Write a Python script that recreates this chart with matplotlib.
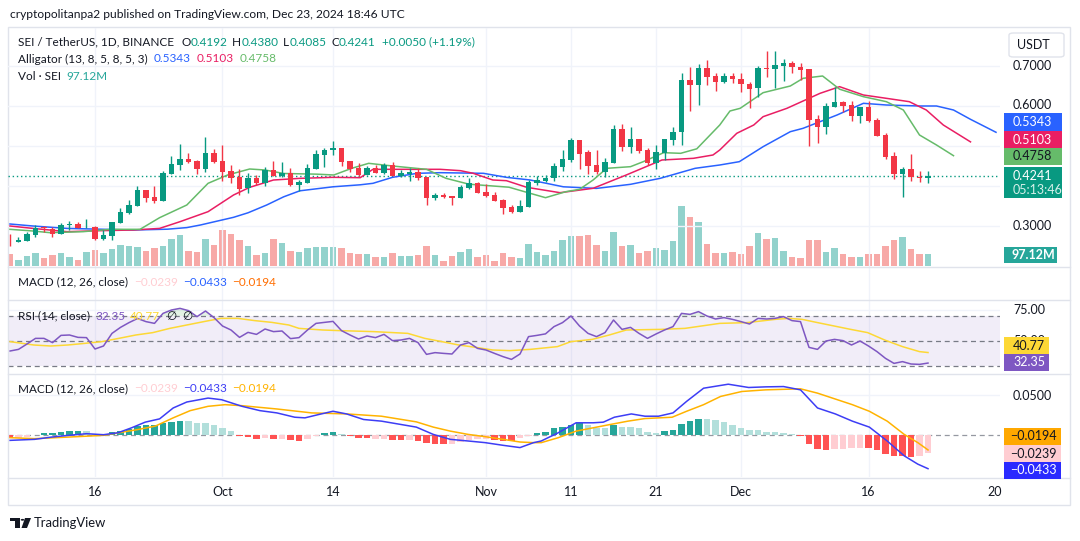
import matplotlib
matplotlib.use('Agg')
import matplotlib.pyplot as plt
from matplotlib.patches import Rectangle, FancyBboxPatch, Polygon, Circle
from matplotlib.lines import Line2D

W, H = 1080, 541
plt.rcParams['font.family'] = ['Lato', 'DejaVu Sans']

# daily candles SEI/USDT, index 0 = Sep 6 2024, last = Dec 23 2024
opens = [.266, .261, .263, .2775, .2955, .2925, .281, .302, .3043, .2965,
         .2975, .2683, .2758, .3083, .3333, .351, .39, .3718, .3633, .4308,
         .4533, .4675, .4625, .4425, .4825, .4625, .4375, .4225, .3942, .4192,
         .4083, .4393, .425, .4325, .4018, .4075, .4433, .4775, .49, .495,
         .4618, .4443, .4275, .4443, .4325, .4518, .425, .4308, .435, .4225,
         .37, .3775, .375, .37, .3958, .4075, .385, .3775, .365, .3468,
         .3358, .3483, .4083, .4133, .4193, .4483, .465, .515, .485, .4518,
         .4358, .4575, .5425, .4983, .5175, .49, .4583, .4833, .515, .5358,
         .665, .6533, .695, .675, .6593, .675, .6675, .6558, .6443, .6943,
         .6918, .7008, .7075, .6975, .6925, .5675, .5483, .5983, .61, .6025,
         .5758, .5975, .565, .5268, .475, .4308, .4425, .4218, .4192]
highs = [.280, .273, .285, .302, .300, .2983, .3068, .3125, .310, .3175,
         .300, .290, .310, .345, .365, .400, .390, .400, .4375, .4758,
         .505, .4833, .465, .5225, .4925, .5025, .4525, .4425, .4317, .4275,
         .4475, .4625, .460, .445, .415, .455, .490, .495, .5133, .495,
         .4618, .4568, .450, .4525, .4568, .460, .440, .4443, .4443, .4225,
         .3818, .3825, .375, .4025, .4193, .4108, .405, .3858, .3675, .3525,
         .365, .415, .4258, .4275, .4583, .490, .5208, .515, .490, .490,
         .470, .5525, .555, .5468, .5175, .4958, .5018, .5183, .5468, .6818,
         .6983, .705, .715, .6818, .6818, .6833, .6818, .6608, .700, .7375,
         .7375, .7175, .7125, .7083, .6925, .5775, .6083, .6468, .6133, .6125,
         .5975, .6125, .570, .5318, .485, .4475, .480, .4375, .4380]
lows = [.250, .260, .262, .273, .2858, .2733, .2793, .290, .2943, .2943,
        .265, .265, .2643, .3083, .3293, .3508, .3608, .3583, .3633, .4308,
        .440, .4568, .430, .435, .4568, .4125, .4068, .3775, .3833, .4018,
        .400, .425, .4233, .400, .3875, .4068, .4418, .4483, .4775, .450,
        .4358, .4258, .4275, .4318, .4308, .425, .4218, .4125, .415, .3525,
        .365, .3708, .3525, .370, .3918, .3825, .3733, .3625, .330, .3333,
        .3358, .3483, .4018, .4108, .4125, .4383, .4608, .4425, .430, .430,
        .4218, .4575, .4883, .4833, .4833, .4525, .4425, .465, .5025, .5025,
        .5883, .6025, .6525, .6383, .6568, .6583, .6358, .5943, .6233, .6733,
        .6443, .6633, .6818, .665, .500, .5083, .530, .5983, .5843, .5633,
        .5583, .5608, .5258, .4668, .4183, .3733, .4133, .4108, .4085]
closes = [.264, .265, .279, .295, .2943, .2808, .3018, .3043, .2958, .2975,
          .2683, .2775, .310, .335, .3525, .390, .3708, .3633, .4325, .455,
          .4675, .460, .4425, .4825, .460, .435, .4208, .3933, .4192, .4068,
          .4393, .425, .4333, .4025, .4108, .4443, .480, .4908, .495, .4608,
          .4425, .4275, .4443, .4325, .4518, .425, .4325, .435, .420, .370,
          .3775, .3718, .3693, .3975, .4075, .3825, .375, .3633, .3458, .3358,
          .3493, .4108, .415, .4208, .450, .4675, .515, .480, .450, .4358,
          .460, .5425, .4983, .5175, .4883, .4583, .485, .5175, .535, .665,
          .6533, .695, .6733, .6608, .675, .6668, .6543, .6433, .695, .6918,
          .7033, .7075, .6968, .6908, .565, .5483, .600, .610, .6008, .5758,
          .5975, .5633, .5258, .4733, .4308, .4425, .4218, .4192, .4241]
volume_m = [97, 49, 81, 105, 65, 89, 105, 73, 49, 113,
            129, 105, 138, 170, 162, 154, 121, 146, 162, 218,
            251, 121, 113, 218, 170, 291, 259, 210, 162, 89,
            105, 218, 186, 121, 113, 146, 154, 154, 154, 146,
            105, 97, 97, 73, 73, 105, 81, 81, 89, 162,
            89, 40, 81, 113, 138, 73, 89, 40, 105, 73,
            65, 178, 113, 89, 121, 210, 243, 243, 251, 170,
            121, 275, 162, 170, 105, 121, 146, 129, 202, 485,
            396, 356, 178, 105, 105, 113, 97, 162, 267, 218,
            227, 121, 73, 65, 210, 210, 113, 146, 97, 73,
            73, 97, 97, 162, 210, 235, 138, 97, 97.12]

# Alligator lines (day, value), shifted into the future
jaw_days = [0, 2.7, 6.7, 10.6, 14.5, 18.5, 20.8, 22.4, 26.3, 28, 30.2, 32.2, 34.1, 38, 41.2,
            42.7, 45, 47.9, 50.6, 55.7, 58.4, 61.2, 65.1, 69, 73, 76.5, 80.6, 83.5, 85.8,
            88.6, 91.8, 93.3, 97.3, 100.4, 103.1, 107, 109, 111, 113, 116]
jaw_vals = [.305, .300, .294, .292, .290, .292, .296, .3025, .3217, .333, .3525, .373, .388, .398,
            .403, .4067, .4217, .4317, .4333, .4317, .4217, .415, .398, .394, .4042, .4192,
            .4442, .4525, .4608, .4983, .5358, .5442, .5775, .6067, .6025, .600, .600, .590,
            .5667, .5343]
teeth_days = [0, 2.7, 6.7, 10.6, 14.5, 17.6, 20, 23.3, 26.3, 28.2, 31, 34, 38, 41.2, 42.7, 45,
              50.6, 53, 54.5, 56.8, 58.4, 60.8, 64.7, 68.6, 72.5, 76.7, 80.4, 82.7, 83.5, 85.5,
              87.5, 88.6, 91.4, 95.3, 97.6, 100.4, 103.1, 105.8, 107.8, 109.8, 113]
teeth_vals = [.300, .294, .2858, .2883, .290, .294, .3108, .3358, .3775, .3967, .415, .419, .4217,
              .4208, .4417, .4417, .4417, .4383, .4317, .415, .4133, .3967, .3833, .3942, .4275,
              .465, .4692, .4775, .490, .5317, .5525, .5733, .5942, .6317, .6483, .6275, .6192,
              .6108, .590, .5525, .5103]
lips_days = [0, 2.7, 4.7, 8.6, 11.8, 15.3, 17.6, 20.8, 23.3, 25.6, 28.2, 30, 32.2, 36.1, 38.1,
             40.2, 42.2, 45, 49, 51.3, 54, 58.7, 61.2, 63, 65.4, 67, 68.6, 70.2, 73, 74.5, 76.9,
             78.9, 80.8, 83.5, 84.7, 85.9, 88.6, 91.8, 93.3, 95.6, 97.6, 100.4, 103.1, 105.1,
             107, 109, 111]
lips_vals = [.2917, .2875, .2833, .2858, .2917, .2917, .3208, .3525, .4067, .4275, .4425, .440,
             .4313, .4296, .4275, .4442, .4567, .450, .4417, .4192, .4045, .397, .3817, .3708,
             .3858, .3917, .415, .4442, .4483, .4608, .4833, .4817, .493, .5525, .5875, .5942,
             .6333, .650, .6692, .675, .642, .6233, .6108, .590, .5275, .5025, .4758]

rsi = [42.0, 43.3, 47.6, 52.1, 52.1, 48.7, 54.5, 54.8, 52.9, 52.7,
       43.6, 46.0, 56.1, 60.9, 64.7, 68.0, 65.5, 64.1, 72.1, 74.8,
       76.1, 74.3, 69.5, 74.0, 68.7, 62.0, 58.8, 52.9, 56.9, 55.3,
       59.6, 57.5, 58.0, 51.9, 52.7, 58.8, 64.1, 64.9, 65.7, 58.3,
       54.8, 51.6, 54.0, 52.7, 55.3, 50.3, 50.8, 52.1, 48.7, 39.3,
       40.7, 40.1, 39.6, 46.8, 48.7, 44.1, 42.8, 40.1, 37.5, 35.3,
       39.6, 53.5, 54.5, 55.7, 61.5, 64.7, 70.0, 62.0, 56.1, 53.5,
       56.7, 66.8, 59.3, 60.9, 56.1, 52.1, 55.6, 58.8, 61.5, 72.1,
       71.3, 73.5, 70.0, 67.6, 68.7, 67.3, 65.5, 63.6, 68.1, 67.6,
       68.1, 69.5, 66.3, 65.5, 44.9, 43.3, 50.0, 51.3, 50.3, 46.8,
       50.0, 46.0, 41.5, 36.1, 32.1, 33.5, 31.6, 31.3, 32.35]
rsi_ma_days = [0, 2.8, 4.8, 6.8, 8.8, 10.8, 12.8, 14.8, 16.8, 18.8, 20.8, 22.8, 24.8, 26.8, 28.8,
               30.8, 32.8, 34, 36.8, 38.8, 42.8, 46.8, 48.8, 50.8, 52.8, 54.8, 56.8, 58.8, 61.2,
               64.4, 66, 68.5, 70.5, 72.5, 76.6, 79.4, 83.5, 86.7, 90, 91.6, 93.2, 94.8, 98.9,
               100.9, 102.9, 105, 107, 108]
rsi_ma_vals = [49.5, 46.8, 46.0, 46.8, 48.1, 49.5, 52.1, 54.8, 56.7, 60.1, 62.8, 65.5, 68.1, 68.1,
               66.3, 64.9, 62.8, 60.1, 58.8, 58.3, 57.5, 56.1, 52.1, 49.5, 46.8, 44.9, 42.8, 42.3,
               43.3, 45.5, 49.5, 51.3, 54.8, 58.8, 59.3, 60.1, 64.1, 64.7, 67.3, 68.1, 67.3, 65.0,
               59.3, 56.7, 50.8, 45.5, 41.5, 40.77]

macd_days = [0, 2.9, 4.9, 6.9, 9, 11, 12.7, 14.3, 15.9, 17.6, 19.2, 20.8, 23.3, 24.9, 27.3, 29.4,
             31.4, 33.5, 34.7, 36.3, 38, 39.6, 41.6, 43.7, 47.8, 49.8, 51.8, 53.9, 55.9, 58, 60,
             61.6, 62.5, 64.5, 66.6, 68.6, 69.8, 71.1, 73.1, 74.7, 76.3, 78, 79.6, 81.6, 84.5,
             86.9, 88.9, 91, 93, 95, 97.1, 99.1, 101.1, 103.2, 105.2, 106.8, 108]
macd_vals = [-.0072, -.0059, -.003, -.0008, .0013, 0, .0025, .0088, .016, .0202, .0341, .0417,
             .0467, .0446, .0362, .0307, .0278, .0223, .0215, .0257, .0299, .0265, .0194, .0173,
             .0097, .0004, -.0059, -.008, -.0101, -.0135, -.0164, -.0101, -.008, .0025, .0152,
             .0152, .016, .0223, .0265, .0236, .0236, .0278, .0425, .0593, .0644, .0602, .061,
             .0614, .0572, .0341, .0265, .0173, .0097, -.008, -.0269, -.0375, -.0433]
signal_days = [0, 2.9, 6.9, 11, 15.1, 17.1, 19.2, 21.2, 23.3, 25.3, 27.3, 31.4, 35.5, 39.6, 43.7,
               47.8, 49.8, 51.8, 53.9, 55.9, 58, 60, 61.6, 62.5, 64.5, 66.6, 68.6, 70.6, 72.7,
               74.7, 77.9, 79.6, 81.6, 83.6, 86.1, 88.9, 93, 95, 99.1, 101.1, 103.2, 105.2,
               106.8, 108]
signal_vals = [-.0038, -.005, -.003, -.0008, .0067, .011, .0215, .0307, .0362, .0383, .037,
               .0328, .0278, .0265, .0236, .0164, .0097, .0046, .0004, -.0025, -.0059, -.0093,
               -.0101, -.0101, -.0038, .0046, .0088, .013, .0173, .0206, .0223, .0299, .0383,
               .0488, .0551, .0572, .0585, .053, .0383, .0299, .0173, .0004, -.0101, -.0194]
hist = [-.0038, -.0038, -.0025, -.0005, .002, .002, .0034, .0042, .0042, .0042,
        .0013, .0004, .003, .0046, .0076, .011, .0118, .013, .0143, .016,
        .018, .0173, .0143, .0143, .0118, .0088, .0042, -.002, -.003, -.0055,
        -.0042, -.0059, -.0059, -.0072, -.008, -.0059, -.002, .002, .003, .0013,
        -.0017, -.0042, -.0042, -.0055, -.0055, -.0067, -.0067, -.0067, -.008, -.011,
        -.0122, -.0122, -.0122, -.0093, -.0063, -.005, -.005, -.0063, -.008, -.008,
        -.0038, -.0017, .0017,
        .0038, .008, .01, .013, .0143, .0118, .0088, .0088, .0118, .01,
        .01, .008, .0038, .0025, .0042, .0055, .0139, .018, .0206, .0206,
        .0185, .0168, .013, .0088, .0055, .0055, .0038, .0038, .0025, .0013,
        -.002, -.0122, -.0185, -.0198, -.0185, -.0185, -.0173, -.0173, -.0173, -.0198,
        -.024, -.0274, -.0274, -.0282, -.0269, -.0239]
hist_kind = list('RrrrGGGGGgggGGGGGGGGGggggggRRRrRrRRrrGGgRRRrrRRrRRRRrrrrrRRRrrG'
                 'GGGGGgggGgggggGGGGGgggggggggggRRRRrrrrRRRRRRrr')

tick_days = [10, 25, 38, 56, 66, 76, 86, 101]
tick_labels = ['16', 'Oct', '14', 'Nov', '11', '21', 'Dec', '16']

UP, DOWN = '#089981', '#F23645'
GRID = '#f0f3fa'
TXT = '#131722'
XL = (-0.235, 116.47)

fig = plt.figure(figsize=(W / 100, H / 100), dpi=100)
fig.patch.set_facecolor('white')


def rect(x0, y0, x1, y1):
    return [x0 / W, 1 - y1 / H, (x1 - x0) / W, (y1 - y0) / H]


def pane(y0, y1):
    a = fig.add_axes(rect(8, y0, 1000, y1))
    a.set_xlim(*XL)
    for s in a.spines.values():
        s.set_visible(False)
    a.set_xticks([])
    a.set_yticks([])
    for d in tick_days:
        a.axvline(d, color=GRID, lw=1, zorder=0)
    return a


# ---- price pane
ax = pane(28, 267)
ax.set_ylim(0.1975, 0.795)
for p in [0.3, 0.4, 0.5, 0.6, 0.7]:
    ax.axhline(p, color=GRID, lw=1, zorder=0)
axv = ax.twinx()
axv.set_ylim(-8.09, 238 * 8.09)
axv.set_yticks([])
for s in axv.spines.values():
    s.set_visible(False)
axv.set_zorder(0)
ax.set_zorder(1)
ax.patch.set_visible(False)
days = list(range(len(closes)))
vcol = ['#92D2CC' if c >= o else '#F7A9A7' for o, c in zip(opens, closes)]
axv.bar(days, volume_m, width=0.82, color=vcol)

for d in days:
    o, h, l, c = opens[d], highs[d], lows[d], closes[d]
    col = UP if c >= o else DOWN
    ax.vlines(d, l, h, color=col, lw=1, zorder=3)
    ax.bar(d, max(abs(c - o), 0.0022), bottom=min(o, c), width=0.7, color=col, zorder=4)
ax.plot(jaw_days, jaw_vals, color='#2962FF', lw=1.1, zorder=2)
ax.plot(teeth_days, teeth_vals, color='#E91E63', lw=1.1, zorder=2)
ax.plot(lips_days, lips_vals, color='#66BB6A', lw=1.1, zorder=2)
ax.axhline(closes[-1], color=UP, lw=1, ls=(0, (1, 2)), zorder=1)

# ---- collapsed macd header pane
axh = pane(268, 300)

# ---- RSI pane
axr = pane(300, 373)
axr.set_ylim(24.4, 82.8)
axr.axhline(75, color=GRID, lw=1, zorder=0)
axr.axhspan(30, 70, color='#7E57C2', alpha=0.1, lw=0)
for lv in [70, 50, 30]:
    axr.axhline(lv, color='#787B86', lw=0.9, ls=(0, (4, 3)))
axr.fill_between(days, 70, rsi, where=[v > 70 for v in rsi], color='#66BB6A', alpha=0.18,
                 interpolate=True, lw=0)
axr.plot(rsi_ma_days, rsi_ma_vals, color='#FDD835', lw=1.1)
axr.plot(days, rsi, color='#7E57C2', lw=1.1)

# ---- MACD pane
axm = pane(374, 477)
axm.set_ylim(-0.0539, 0.0774)
axm.axhline(0.05, color=GRID, lw=1, zorder=0)
kind_col = {'G': '#26A69A', 'g': '#B2DFDB', 'R': '#FF5252', 'r': '#FFCDD2'}
axm.bar(days, hist, width=0.82, color=[kind_col[k] for k in hist_kind], zorder=2)
axm.axhline(0, color='#9598A1', lw=0.9, ls=(0, (4, 3)), zorder=1)
axm.plot(signal_days, signal_vals, color='#FFB300', lw=1.1, zorder=3)
axm.plot(macd_days, macd_vals, color='#3D3DF5', lw=1.1, zorder=4)

# ---- frame and separators
fig.add_artist(Rectangle((8 / W, 1 - 505 / H), 1062 / W, 478 / H, transform=fig.transFigure,
                         fill=False, ec='#e0e3eb', lw=1))
for yy in [267.5, 300, 373.5, 477.5]:
    fig.add_artist(Line2D([8 / W, 1070 / W], [1 - yy / H] * 2, color='#e0e3eb', lw=1))


def T(x, y, s, **kw):
    kw.setdefault('fontsize', 9)
    kw.setdefault('color', TXT)
    kw.setdefault('va', 'center')
    return fig.text(x / W, 1 - y / H, s, **kw)


def runs(x, y, parts, size=8.5):
    r = fig.canvas.get_renderer()
    for s, c, gap in parts:
        t = T(x, y, s, color=c, fontsize=size)
        x += t.get_window_extent(r).width + gap


def box(y0, y1, bg, w=58):
    fig.add_artist(Rectangle((1004 / W, 1 - y1 / H), w / W, (y1 - y0) / H,
                             transform=fig.transFigure, color=bg, lw=0, zorder=2))


T(10, 15, 'cryptopolitanpa2 published on TradingView.com, Dec 23, 2024 18:46 UTC', fontsize=8.65)

runs(18, 42, [('SEI / TetherUS, 1D, BINANCE', TXT, 7), ('O', TXT, 0), ('0.4192', UP, 5),
              ('H', TXT, 0), ('0.4380', UP, 5), ('L', TXT, 0), ('0.4085', UP, 5),
              ('C', TXT, 0), ('0.4241', UP, 6), ('+0.0050 (+1.19%)', UP, 0)])
runs(18, 59, [('Alligator (13, 8, 5, 8, 5, 3)', TXT, 6), ('0.5343', '#2962FF', 6),
              ('0.5103', '#E91E63', 6), ('0.4758', '#66BB6A', 0)])
runs(18, 76, [('Vol · SEI', TXT, 5), ('97.12M', '#26A69A', 0)])
runs(18, 282, [('MACD (12, 26, close)', TXT, 6), ('\u22120.0239', '#FFCDD2', 5),
               ('\u22120.0433', '#2962FF', 5), ('\u22120.0194', '#FF6D00', 0)])
runs(18, 316, [('RSI (14, close)', TXT, 5), ('32.35', '#7E57C2', 5), ('40.77', '#FDD835', 6),
               ('\u2205', TXT, 6), ('\u2205', TXT, 0)])
runs(18, 389, [('MACD (12, 26, close)', TXT, 6), ('\u22120.0239', '#FFCDD2', 5),
               ('\u22120.0433', '#3D3DF5', 5), ('\u22120.0194', '#FFB300', 0)])

# right scale
fig.add_artist(FancyBboxPatch((1009 / W, 1 - 57 / H), 55 / W, 24 / H, transform=fig.transFigure,
                              boxstyle='round,pad=0,rounding_size=0.004', fc='white',
                              ec='#e0e3eb', lw=1))
T(1017, 45, 'USDT')
T(1013, 66, '0.7000')
T(1013, 105, '0.6000')
T(1013, 226, '0.3000')
box(113, 131, '#2962FF')
T(1013, 122, '0.5343', color='white')
box(131, 148, '#E91E63')
T(1013, 139.5, '0.5103', color='white')
box(148, 165, '#66BB6A')
T(1013, 156.5, '0.4758')
box(167, 198, UP)
T(1013, 176, '0.4241', color='white')
T(1013, 190, '05:13:46', color='#d6f0ea')
box(247, 263, '#26A69A', w=53)
T(1011, 255, '97.12M', color='white', fontweight='bold')

T(1013, 310, '75.00')
T(1013, 341, '50.00', zorder=1)
box(337, 354, '#FDD835', w=45)
T(1013, 345.5, '40.77')
box(354, 371, '#7E57C2', w=45)
T(1013, 362.5, '32.35', color='white')

T(1013, 396, '0.0500')
box(428, 445, '#FFA800', w=57)
T(1010, 436.5, '\u22120.0194')
box(445, 462, '#FFCDD2', w=57)
T(1010, 453.5, '\u22120.0239')
box(462, 479, '#2A2AFF', w=57)
T(1010, 470.5, '\u22120.0433', color='white')

# time axis
for d, lab in zip(tick_days, tick_labels):
    T(10 + 8.5 * d, 492, lab, ha='center')
T(995, 492, '20', ha='center')

# TradingView logo
fig.add_artist(Rectangle((10 / W, 1 - 521 / H), 10 / W, 3.5 / H, transform=fig.transFigure,
                         color=TXT, lw=0))
fig.add_artist(Rectangle((15 / W, 1 - 528 / H), 4.5 / W, 10 / H, transform=fig.transFigure,
                         color=TXT, lw=0))
fig.add_artist(Circle((22.5 / W, 1 - 519.8 / H), 1.8 / W, transform=fig.transFigure,
                      color=TXT, lw=0))
fig.add_artist(Polygon([(25 / W, 1 - 518 / H), (31 / W, 1 - 518 / H), (27 / W, 1 - 528 / H),
                        (21.5 / W, 1 - 528 / H)], closed=True, transform=fig.transFigure,
                       color=TXT, lw=0))
T(34, 523, 'TradingView', fontsize=9.4)

fig.savefig('out.png', dpi=100)
